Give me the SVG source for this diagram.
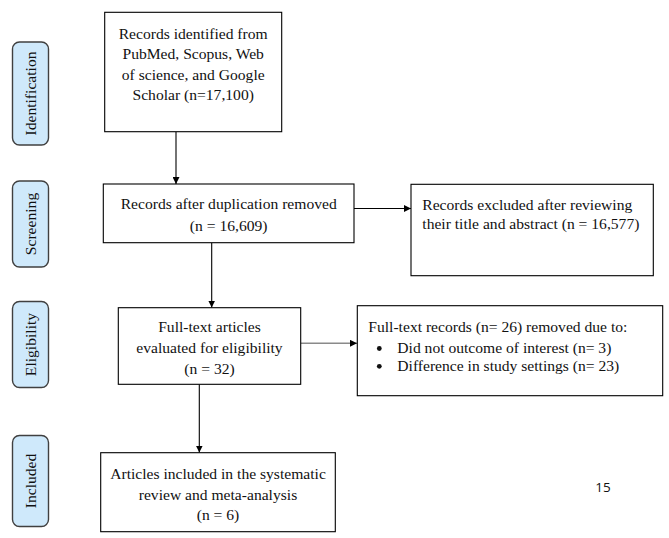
<svg xmlns="http://www.w3.org/2000/svg" width="669" height="538" viewBox="0 0 669 538">
<defs>
<style>
.box{fill:#fff;stroke:#000;stroke-width:1.1}
.lab{fill:#cfe9fb;stroke:#404040;stroke-width:1.4}
.t{font-size:15.6px;fill:#111}
.c{text-anchor:middle}
.edge{fill:none;stroke:#000;stroke-width:1.1}
.gray{stroke:#8a8a8a;stroke-width:1.5}
</style>
<marker id="ah" viewBox="0 0 10 10" refX="10" refY="5" markerWidth="7" markerHeight="7" markerUnits="userSpaceOnUse" orient="auto">
<path d="M0,0 L10,5 L0,10 z" fill="#000"/>
</marker>
</defs>
<rect width="669" height="538" fill="#fff"/>
<g font-family="'Liberation Serif', 'Times New Roman', serif">
<g id="label-identification">
<rect class="lab" x="12.5" y="42" width="36" height="103" rx="7"/>
<text class="t c" font-family="Liberation Serif" transform="translate(36,93.5) rotate(-90)">Identification</text>
</g>
<g id="label-screening">
<rect class="lab" x="12.5" y="181" width="36" height="86" rx="7"/>
<text class="t c" font-family="Liberation Serif" transform="translate(36,224) rotate(-90)">Screening</text>
</g>
<g id="label-eligibility">
<rect class="lab" x="12.5" y="301.5" width="36" height="86" rx="7"/>
<text class="t c" font-family="Liberation Serif" transform="translate(36,344.5) rotate(-90)">Eligibility</text>
</g>
<g id="label-included">
<rect class="lab" x="12.5" y="435.5" width="36" height="91" rx="7"/>
<text class="t c" font-family="Liberation Serif" transform="translate(36,481) rotate(-90)">Included</text>
</g>

<g id="connectors">
<line class="edge" x1="176" y1="132" x2="176" y2="184" marker-end="url(#ah)"/>
<line class="edge" x1="354" y1="208.5" x2="411" y2="208.5" marker-end="url(#ah)"/>
<line class="edge" x1="211.7" y1="243" x2="211.7" y2="307.5" marker-end="url(#ah)"/>
<line class="edge gray" x1="300.7" y1="343.3" x2="357" y2="343.3" marker-end="url(#ah)"/>
<line class="edge" x1="199.3" y1="384.3" x2="199.3" y2="452.5" marker-end="url(#ah)"/>
</g>

<g id="node-identified" font-family="Liberation Serif">
<rect class="box" x="104.7" y="12.3" width="177" height="119.4"/>
<text class="t c" x="193.2" y="38.5">Records identified from</text>
<text class="t c" x="193.2" y="59">PubMed, Scopus, Web</text>
<text class="t c" x="193.2" y="79.5">of science, and Google</text>
<text class="t c" x="193.2" y="100">Scholar (n=17,100)</text>
</g>

<g id="node-deduplicated" font-family="Liberation Serif">
<rect class="box" x="103.3" y="184" width="250.7" height="58.7"/>
<text class="t c" x="228.7" y="209.3">Records after duplication removed</text>
<text class="t c" x="228.7" y="230.5">(n = 16,609)</text>
</g>

<g id="node-excluded" font-family="Liberation Serif">
<rect class="box" x="411" y="184.3" width="242.3" height="91.4"/>
<text class="t" x="422.3" y="210.3">Records excluded after reviewing</text>
<text class="t" x="422.3" y="228.7">their title and abstract (n = 16,577)</text>
</g>

<g id="node-fulltext" font-family="Liberation Serif">
<rect class="box" x="118.3" y="307.7" width="182.4" height="76.6"/>
<text class="t c" x="209.5" y="332.3">Full-text articles</text>
<text class="t c" x="209.5" y="353.3">evaluated for eligibility</text>
<text class="t c" x="209.5" y="374">(n = 32)</text>
</g>

<g id="node-removed" font-family="Liberation Serif">
<rect class="box" x="357.3" y="305.7" width="305.4" height="90"/>
<text class="t" x="368.3" y="331.7">Full-text records (n= 26) removed due to:</text>
<circle cx="379.3" cy="348.5" r="2.4" fill="#111"/>
<text class="t" x="397.3" y="353.3">Did not outcome of interest (n= 3)</text>
<circle cx="379.3" cy="366.3" r="2.4" fill="#111"/>
<text class="t" x="397.3" y="371.1">Difference in study settings (n= 23)</text>
</g>

<g id="node-included" font-family="Liberation Serif">
<rect class="box" x="100.7" y="452.7" width="234.6" height="79"/>
<text class="t c" x="218" y="478.5">Articles included in the systematic</text>
<text class="t c" x="218" y="499.5">review and meta-analysis</text>
<text class="t c" x="218" y="520.3">(n = 6)</text>
</g>
</g>
<text x="603" y="492" text-anchor="middle" font-family="'Open Sans','Liberation Sans',sans-serif" font-size="13.5px" fill="#111">15</text>
</svg>
